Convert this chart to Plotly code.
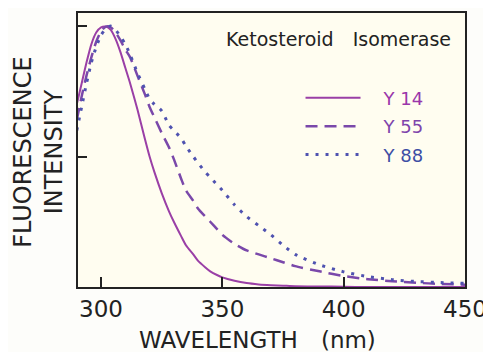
import plotly.graph_objects as go

wavelength = [290, 292, 294, 296, 298, 300, 302, 304, 306, 308, 310, 312, 315, 318, 320, 322,
              325, 328, 330, 333, 335, 338, 340, 343, 345, 348, 350, 355, 360, 365, 370, 375,
              380, 390, 400, 410, 420, 430, 440, 450]

y14 = [0.70, 0.78, 0.86, 0.93, 0.975, 0.995, 0.998, 0.985, 0.95, 0.90, 0.84, 0.78, 0.68, 0.57,
       0.50, 0.44, 0.36, 0.29, 0.25, 0.195, 0.16, 0.125, 0.10, 0.075, 0.06, 0.045, 0.037, 0.024,
       0.015, 0.010, 0.007, 0.005, 0.003, 0.002, 0.001, 0.0, 0.0, 0.0, 0.0, 0.0]

y55 = [0.64, 0.73, 0.81, 0.88, 0.94, 0.98, 0.998, 0.995, 0.975, 0.945, 0.91, 0.88, 0.81, 0.74,
       0.69, 0.65, 0.59, 0.535, 0.49, 0.415, 0.37, 0.33, 0.30, 0.27, 0.25, 0.22, 0.20, 0.165,
       0.14, 0.125, 0.11, 0.095, 0.08, 0.06, 0.042, 0.03, 0.022, 0.016, 0.012, 0.009]

y88 = [0.60, 0.69, 0.78, 0.86, 0.92, 0.965, 0.99, 1.0, 0.985, 0.96, 0.93, 0.89, 0.82, 0.76,
       0.72, 0.70, 0.675, 0.62, 0.60, 0.57, 0.54, 0.50, 0.475, 0.44, 0.42, 0.39, 0.37, 0.315,
       0.27, 0.235, 0.20, 0.16, 0.125, 0.085, 0.058, 0.04, 0.028, 0.021, 0.017, 0.014]

series_names = ["Y 14", "Y 55", "Y 88"]
line_colors = ["#9a3fa6", "#7a48aa", "#4f52b0"]
text_colors = ["#9a36aa", "#7e44ac", "#3d4ea4"]
dashes = ["solid", "12px,7px", "3px,7px"]
widths = [2, 2.5, 3]

x_ticks = [300, 350, 400, 450]
y_ticks = [0.5, 1.0]

FONT = "DejaVu Sans"

fig = go.Figure()
for name, yv, lc, tc, d, w in zip(series_names, [y14, y55, y88], line_colors, text_colors, dashes, widths):
    fig.add_trace(go.Scatter(
        x=wavelength, y=yv, mode="lines", line=dict(color=lc, width=w, dash=d, shape="spline", smoothing=0.6),
        name=f"\u2002\u2002<span style='color:{tc}'>{name}</span>", legendgroup=name,
    ))

# page body adds an 8px offset, so the figure is 8px smaller than the window
fig.update_layout(
    width=483, height=344,
    margin=dict(l=70, r=26, t=5, b=65),
    paper_bgcolor="#fdfdfa",
    plot_bgcolor="#fffdf0",
    font=dict(family=FONT, color="#222"),
    showlegend=True,
    legend=dict(x=0.575, y=0.757, xanchor="left", yanchor="top", bgcolor="rgba(0,0,0,0)",
                itemwidth=55, tracegroupgap=2, font=dict(size=18, family=FONT)),
    xaxis=dict(range=[290.5, 450], tickvals=x_ticks, ticks="inside", ticklen=10, tickwidth=2,
               tickcolor="#222", showline=True, linecolor="#222", linewidth=2, mirror=True,
               showgrid=False, zeroline=False, automargin=False,
               tickfont=dict(size=23, family=FONT, color="#222")),
    yaxis=dict(range=[0, 1.05], tickvals=y_ticks, ticks="inside", ticklen=9, tickwidth=2,
               tickcolor="#222", showticklabels=False, showline=True, linecolor="#222", linewidth=2,
               mirror=True, showgrid=False, zeroline=False, automargin=False),
    annotations=[
        dict(text="Ketosteroid\u2002\u2002Isomerase", xref="paper", yref="paper", x=0.97, y=0.905,
             xanchor="right", yanchor="middle", showarrow=False,
             font=dict(size=19, family=FONT, color="#222")),
        dict(text="FLUORESCENCE<br>INTENSITY", xref="paper", yref="paper", x=0, y=0.49,
             xanchor="center", yanchor="middle", xshift=-39, textangle=-90, showarrow=False,
             font=dict(size=24, family=FONT, color="#222")),
        dict(text="WAVELENGTH\u2002\u2002(nm)", xref="paper", yref="paper", x=0.465, y=0,
             xanchor="center", yanchor="middle", yshift=-53, showarrow=False,
             font=dict(size=23, family=FONT, color="#222")),
    ],
)

fig.write_html("out.html")
